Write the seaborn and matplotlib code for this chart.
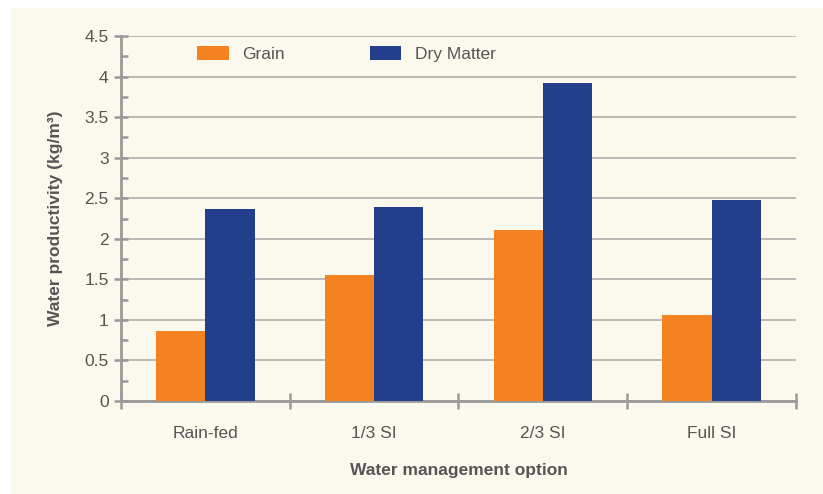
import pandas as pd
import matplotlib
matplotlib.use("Agg")
import matplotlib.pyplot as plt
from matplotlib.patches import Rectangle
from matplotlib.ticker import MultipleLocator, FormatStrFormatter
import seaborn as sns

# datos
opciones = ["Rain-fed", "1/3 SI", "2/3 SI", "Full SI"]
grano = [0.86, 1.55, 2.11, 1.06]
materia_seca = [2.37, 2.39, 3.92, 2.48]
series = ["Grain", "Dry Matter"]

CREMA = "#FBF9EE"
GRIS = "#9A9A9A"
TEXTO = "#555555"
colores = {"Grain": "#F58220", "Dry Matter": "#233F8C"}

df = pd.DataFrame({
    "opcion": opciones * 2,
    "serie": [series[0]] * len(opciones) + [series[1]] * len(opciones),
    "valor": grano + materia_seca,
})

sns.set_theme(style="white")
plt.rcParams["font.family"] = ["Liberation Sans", "DejaVu Sans"]

fig = plt.figure(figsize=(8.23, 4.94), dpi=100)
fig.patch.set_facecolor("white")
fig.patches.append(Rectangle((11 / 823, 0), 1, 1 - 8 / 494, transform=fig.transFigure,
                             facecolor=CREMA, edgecolor="none", zorder=-10))
ax = fig.add_axes([121 / 823, 1 - 401 / 494, (796 - 121) / 823, (401 - 36) / 494])
ax.set_facecolor(CREMA)

sns.barplot(data=df, x="opcion", y="valor", hue="serie", order=opciones,
            hue_order=series, palette=colores, width=0.585, gap=0,
            saturation=1, linewidth=0, ax=ax, zorder=3)

ax.set_ylim(0, 4.5)
ax.set_xlim(-0.5, 3.5)
ax.yaxis.set_major_locator(MultipleLocator(0.5))
ax.yaxis.set_minor_locator(MultipleLocator(0.25))
ax.yaxis.set_major_formatter(FormatStrFormatter("%g"))
ax.set_xticks(range(len(opciones)))
ax.set_xticks([-0.5, 0.5, 1.5, 2.5, 3.5], minor=True)

ax.grid(axis="y", color="#A8A8A8", linewidth=1.1, zorder=0)
ax.set_axisbelow(True)

for lado in ["top", "right"]:
    ax.spines[lado].set_visible(False)
for lado in ["left", "bottom"]:
    ax.spines[lado].set_color(GRIS)
    ax.spines[lado].set_linewidth(2)

ax.tick_params(axis="y", which="major", left=True, direction="inout", length=10, width=1.8,
               color=GRIS, labelsize=12.5, labelcolor=TEXTO, pad=4)
ax.tick_params(axis="y", which="minor", left=True, direction="in", length=5, width=1.8,
               color=GRIS)
ax.tick_params(axis="x", which="major", bottom=False, length=0, labelsize=12.5,
               labelcolor=TEXTO, pad=18)
ax.tick_params(axis="x", which="minor", bottom=True, direction="inout", length=12, width=1.8,
               color=GRIS)

ax.set_xlabel("Water management option", fontsize=12.5, fontweight="bold",
              color=TEXTO, labelpad=16)
ax.set_ylabel("Water productivity (kg/m³)", fontsize=12.5, fontweight="bold",
              color=TEXTO, labelpad=15)

ax.legend(loc="center left", bbox_to_anchor=(0.09, 0.951), ncol=2, frameon=False,
          fontsize=12.5, labelcolor=TEXTO, handlelength=1.8, handleheight=0.9,
          handletextpad=0.8, columnspacing=4.9)

fig.savefig("out.png", dpi=100, facecolor=fig.get_facecolor())
